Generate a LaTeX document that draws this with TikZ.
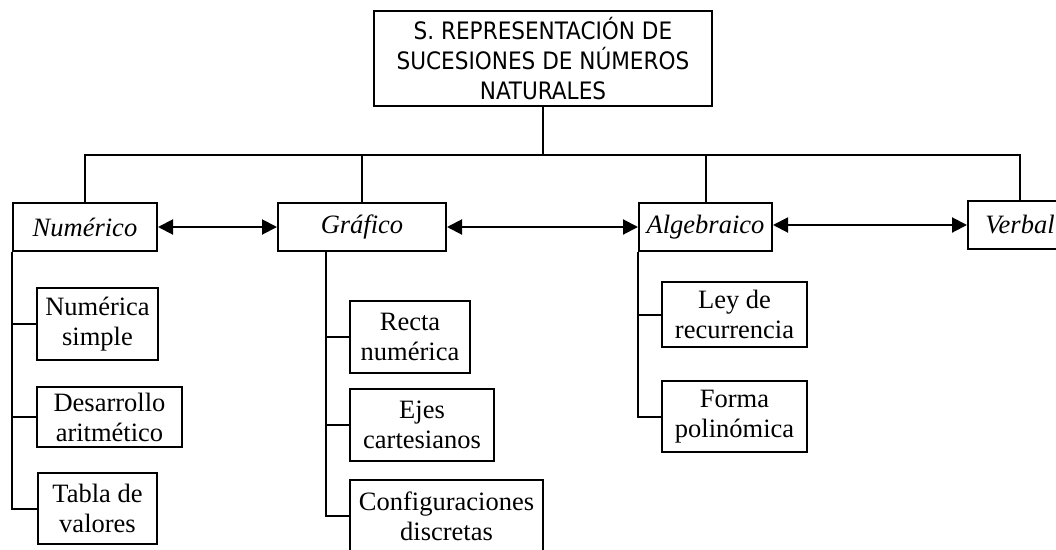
\documentclass[tikz,border=0pt]{standalone}
\usepackage{fontspec}
\setmainfont{Liberation Serif}
\setsansfont{DejaVu Sans Condensed}
\usetikzlibrary{arrows.meta}

\begin{document}
\begin{tikzpicture}[x=1pt, y=-1pt, line width=2pt,
                    >={Triangle[length=15pt,width=15pt]},
                    box/.style={draw, anchor=north west, inner sep=0pt, align=center,
                                font=\fontsize{26.5}{30}\selectfont},
                    kind/.style={box, minimum height=48,
                                 font=\fontsize{26.5}{30}\selectfont\itshape},
                    title/.style={box, font=\fontsize{24}{30}\sffamily\selectfont}
                   ]
        \useasboundingbox (0,0) rectangle (1056,549);

        \node[title, minimum width=338, minimum height=95] (root) at (373,10)
            {S. REPRESENTACIÓN DE\\SUCESIONES DE NÚMEROS\\NATURALES};

        % representaciones
        \node[kind, minimum width=144] (num) at (12,202) {Numérico};
        \node[kind, minimum width=168] (graf) at (277,202) {Gráfico};
        \node[kind, minimum width=133] (alg) at (638,202) {Algebraico};
        \node[kind, minimum width=104] (verb) at (967,200) {Verbal};

        % numérico
        \node[box, minimum width=121, minimum height=72] (simple) at (36,287) {Numérica\\simple};
        \node[box, minimum width=145, minimum height=60] (desarr) at (36,386) {Desarrollo\\aritmético};
        \node[box, minimum width=119, minimum height=71] (tabla) at (37,472) {Tabla de\\valores};

        % gráfico
        \node[box, minimum width=120, minimum height=72] (recta) at (349,300) {Recta\\numérica};
        \node[box, minimum width=144, minimum height=72] (ejes) at (349,388) {Ejes\\cartesianos};
        \node[box, minimum width=193, minimum height=72] (config) at (349,479) {Configuraciones\\discretas};

        % algebraico
        \node[box, minimum width=145, minimum height=65] (ley) at (661,281) {Ley de\\recurrencia};
        \node[box, minimum width=145, minimum height=71] (forma) at (661,380) {Forma\\polinómica};

        % ramas superiores
        \draw (root.south) -- ++(0,48) coordinate (bus);
        \draw (num.north) -- (num.north |- bus) -- (verb.north |- bus) -- (verb.north);
        \draw (graf.north) -- (graf.north |- bus);
        \draw (alg.north) -- (alg.north |- bus);

        % flechas
        \draw[<->] (num.east) -- (graf.west);
        \draw[<->] (graf.east) -- (alg.west);
        \draw[<->] (verb.west -| alg.east) -- (verb.west);

        % ramas inferiores
        \draw (num.south west) |- (tabla.west);
        \draw (num.south west |- simple.west) -- (simple.west);
        \draw (num.south west |- desarr.west) -- (desarr.west);

        \coordinate (gtrunk) at ([xshift=-36pt]graf.south);
        \draw (gtrunk) |- (config.west);
        \draw (gtrunk |- recta.west) -- (recta.west);
        \draw (gtrunk |- ejes.west) -- (ejes.west);

        \draw (alg.south west) |- (forma.west);
        \draw (alg.south west |- ley.west) -- (ley.west);
\end{tikzpicture}
\end{document}
